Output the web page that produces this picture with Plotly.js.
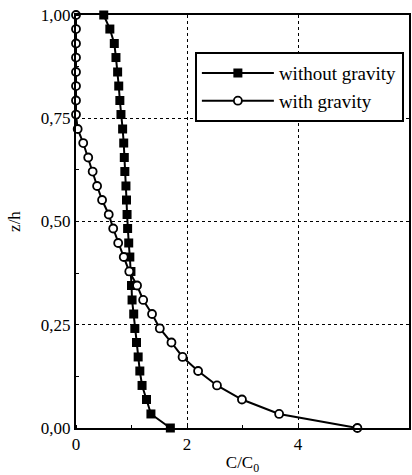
<!DOCTYPE html>
<html>
<head>
<meta charset="utf-8">
<script src="https://cdn.plot.ly/plotly-3.0.1.min.js"></script>
<style>html,body{margin:0;padding:0;background:#fff;}#chart{width:412px;height:475px;}</style>
</head>
<body>
<div id="chart"></div>
<script>
// without gravity (filled squares)
const noGravC = [1.70, 1.35, 1.27, 1.19, 1.15, 1.12, 1.09, 1.06, 1.04, 1.01, 1.00, 0.99, 0.97, 0.95, 0.93, 0.92, 0.91, 0.90, 0.88, 0.87, 0.86, 0.84, 0.81, 0.79, 0.77, 0.75, 0.72, 0.69, 0.61, 0.50];
const noGravZ = [0.000, 0.034, 0.069, 0.103, 0.138, 0.172, 0.207, 0.241, 0.276, 0.310, 0.345, 0.379, 0.414, 0.448, 0.483, 0.517, 0.552, 0.586, 0.621, 0.655, 0.690, 0.724, 0.759, 0.793, 0.828, 0.862, 0.897, 0.931, 0.966, 1.000];
// with gravity (open circles)
const gravC = [5.07, 3.66, 2.99, 2.54, 2.20, 1.92, 1.72, 1.51, 1.37, 1.21, 1.10, 0.96, 0.86, 0.76, 0.67, 0.59, 0.47, 0.38, 0.30, 0.22, 0.13, 0.03, 0, 0, 0, 0, 0, 0, 0, 0];
const gravZ = [0.000, 0.034, 0.069, 0.103, 0.138, 0.172, 0.207, 0.241, 0.276, 0.310, 0.345, 0.379, 0.414, 0.448, 0.483, 0.517, 0.552, 0.586, 0.621, 0.655, 0.690, 0.724, 0.759, 0.793, 0.828, 0.862, 0.897, 0.931, 0.966, 1.000];
const seriesNames = ['without gravity', 'with gravity'];
const xTicks = [0, 2, 4, 6];
const yTicks = [0, 0.25, 0.5, 0.75, 1];

const font = "'Liberation Serif', 'DejaVu Serif', serif";
const traces = [
  {x: noGravC, y: noGravZ, name: seriesNames[0], type: 'scatter', mode: 'lines+markers', cliponaxis: false,
   line: {color: '#000', width: 2}, marker: {symbol: 'square', size: 9, color: '#000'}},
  {x: gravC, y: gravZ, name: seriesNames[1], type: 'scatter', mode: 'lines+markers', cliponaxis: false,
   line: {color: '#000', width: 2}, marker: {symbol: 'circle', size: 8, color: '#fff', line: {color: '#000', width: 1.8}}}
];
const layout = {
  width: 412, height: 475,
  margin: {l: 76, r: 3, t: 15, b: 47},
  paper_bgcolor: '#fff', plot_bgcolor: '#fff',
  separators: ', ',
  font: {family: font, size: 16, color: '#000'},
  showlegend: true,
  legend: {x: 0.357, y: 0.91, xanchor: 'left', yanchor: 'top', bgcolor: '#fff', bordercolor: '#000', borderwidth: 2,
           font: {family: font, size: 19, color: '#000'}, tracegroupgap: 0, itemwidth: 72},
  xaxis: {range: [0, 6], tickvals: xTicks, ticktext: xTicks.map(String), showline: true, linewidth: 2, linecolor: '#000', mirror: true,
          showgrid: true, gridcolor: '#000', griddash: 'dot', gridwidth: 1, zeroline: false, ticks: '',
          tickfont: {family: font, size: 17}, title: {text: 'C/C<sub>0</sub>', font: {family: font, size: 17}, standoff: 4},
          minor: {dtick: 1, ticks: 'inside', ticklen: 3, tickcolor: '#000', showgrid: false}},
  yaxis: {range: [0, 1], tickvals: yTicks, tickformat: '.2f', showline: true, linewidth: 2, linecolor: '#000', mirror: true,
          showgrid: true, gridcolor: '#000', griddash: 'dot', gridwidth: 1, zeroline: false, ticks: '',
          tickfont: {family: font, size: 17}, title: {text: 'z/h', font: {family: font, size: 17}, standoff: 16},
          minor: {dtick: 0.125, ticks: 'inside', ticklen: 3, tickcolor: '#000', showgrid: false}}
};
Plotly.newPlot('chart', traces, layout, {displayModeBar: false, staticPlot: true});
</script>
</body>
</html>
